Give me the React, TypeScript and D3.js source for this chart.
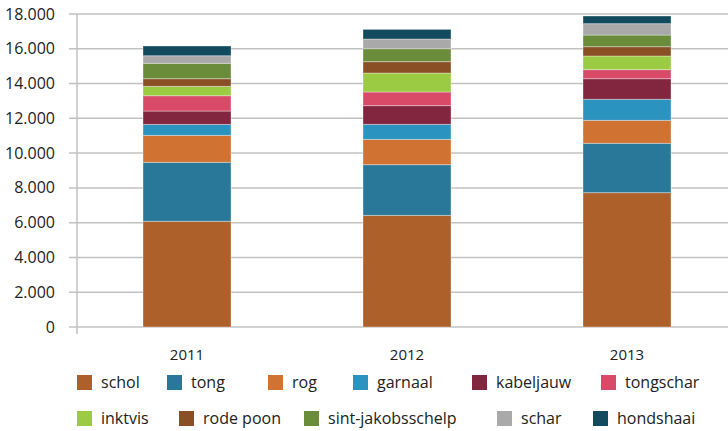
import React, { useEffect, useRef } from 'react';
import * as d3 from 'd3';

const years = ['2011', '2012', '2013'];
const species = [
  'schol', 'tong', 'rog', 'garnaal', 'kabeljauw', 'tongschar',
  'inktvis', 'rode poon', 'sint-jakobsschelp', 'schar', 'hondshaai',
];
const schol = [6080, 6420, 7725];
const tong = [3390, 2915, 2840];
const rog = [1550, 1455, 1320];
const garnaal = [630, 865, 1210];
const kabeljauw = [770, 1075, 1185];
const tongschar = [880, 785, 520];
const inktvis = [540, 1090, 785];
const rodePoon = [440, 655, 535];
const sintJakobsschelp = [885, 745, 670];
const schar = [435, 555, 655];
const hondshaai = [560, 555, 440];
const yTicks = [0, 2000, 4000, 6000, 8000, 10000, 12000, 14000, 16000, 18000];

const colors = [
  '#ad6029', '#2a7899', '#d07232', '#2b93bf', '#82253e', '#d94968',
  '#9bcb43', '#8a4f25', '#6b8c3b', '#a9a9a9', '#124a5e',
];

// legend layout (Excel-like uneven spacing)
const legendRows = [
  [0, 1, 2, 3, 4, 5],
  [6, 7, 8, 9, 10],
];
const legendX = [
  [77, 167, 268, 353, 472, 601],
  [77, 179, 304, 497, 593],
];

const W = 728;
const H = 431;
const FONT = '"Open Sans", sans-serif';

export default function App() {
  const ref = useRef<SVGSVGElement>(null);

  useEffect(() => {
    document.body.style.margin = '0';
    if (!ref.current) return;
    const svg = d3.select(ref.current);
    svg.selectAll('*').remove();

    const seriesValues = [
      schol, tong, rog, garnaal, kabeljauw, tongschar,
      inktvis, rodePoon, sintJakobsschelp, schar, hondshaai,
    ];
    const rows = years.map((yr, i) => {
      const row: any = { year: yr };
      species.forEach((s, j) => { row[s] = seriesValues[j][i]; });
      return row;
    });

    const left = 77;
    const x = d3.scaleBand()
      .domain(years)
      .range([left, 737])
      .paddingInner(0.6)
      .paddingOuter(0.3);
    const y = d3.scaleLinear().domain([0, 18000]).range([327, 14]);

    const layers = d3.stack<any>().keys(species)(rows);

    // grid lines
    svg.append('g')
      .selectAll('line')
      .data(yTicks)
      .join('line')
      .attr('x1', left - 8)
      .attr('x2', 737)
      .attr('y1', d => y(d))
      .attr('y2', d => y(d))
      .attr('stroke', '#c2c2c2')
      .attr('stroke-width', 1.5);

    // vertical axis line
    svg.append('line')
      .attr('x1', left).attr('x2', left)
      .attr('y1', y(18000)).attr('y2', y(0) + 7)
      .attr('stroke', '#c2c2c2')
      .attr('stroke-width', 1.5);

    // y tick labels
    const fmt = (d: number) => d3.format(',')(d).replace(/,/g, '.');
    svg.append('g')
      .selectAll('text')
      .data(yTicks)
      .join('text')
      .attr('x', 55)
      .attr('y', d => y(d))
      .attr('dy', '0.35em')
      .attr('text-anchor', 'end')
      .attr('font-family', FONT)
      .attr('font-size', 16)
      .attr('fill', '#222')
      .text(d => fmt(d));

    // bars
    svg.append('g')
      .selectAll('g')
      .data(layers)
      .join('g')
      .attr('fill', (_, i) => colors[i])
      .selectAll('rect')
      .data(d => d)
      .join('rect')
      .attr('x', d => x(d.data.year)!)
      .attr('width', x.bandwidth())
      .attr('y', d => y(d[1]))
      .attr('height', d => y(d[0]) - y(d[1]))
      .attr('stroke', 'rgba(255,255,255,0.35)')
      .attr('stroke-width', 1);

    // x labels
    svg.append('g')
      .selectAll('text')
      .data(years)
      .join('text')
      .attr('x', d => x(d)! + x.bandwidth() / 2)
      .attr('y', 360)
      .attr('text-anchor', 'middle')
      .attr('font-family', FONT)
      .attr('font-size', 15)
      .attr('fill', '#222')
      .text(d => d);

    // legend
    const rowY = [375, 411];
    legendRows.forEach((row, r) => {
      row.forEach((idx, k) => {
        const g = svg.append('g').attr('transform', `translate(${legendX[r][k]},${rowY[r]})`);
        g.append('rect')
          .attr('width', 15)
          .attr('height', 15)
          .attr('fill', colors[idx]);
        g.append('text')
          .attr('x', 24)
          .attr('y', 13)
          .attr('font-family', FONT)
          .attr('font-size', 16)
          .attr('fill', '#222')
          .text(species[idx]);
      });
    });
  }, []);

  return <svg ref={ref} width={W} height={H} style={{ display: 'block' }} />;
}
